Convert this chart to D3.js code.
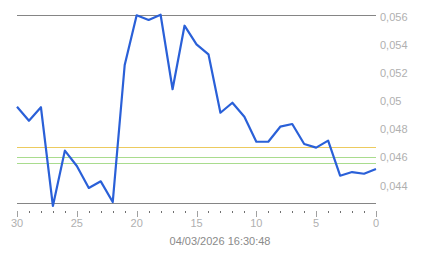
<!DOCTYPE html>
<html>
<head>
<meta charset="utf-8">
<script src="https://cdn.jsdelivr.net/npm/d3@7"></script>
<style>
  body { margin: 0; background: #fff; }
  svg { display: block; font-family: "Liberation Sans", Arial, sans-serif; }
</style>
</head>
<body>
<svg width="443" height="258"></svg>
<script>

// data –––––––––––––––––––––––––––––––––––––––––––––––––––––
var days = [30, 29, 28, 27, 26, 25, 24, 23, 22, 21, 20, 19, 18, 17, 16, 15,
            14, 13, 12, 11, 10, 9, 8, 7, 6, 5, 4, 3, 2, 1, 0];
var values = [0.04961, 0.04861, 0.04957, 0.04256, 0.04649, 0.04540, 0.04384, 0.04431,
              0.04284, 0.05257, 0.05610, 0.05577, 0.05614, 0.05085, 0.05536, 0.05404,
              0.05333, 0.04918, 0.04989, 0.04890, 0.04712, 0.04712, 0.04819, 0.04838,
              0.04696, 0.04670, 0.04720, 0.04471, 0.04497, 0.04485, 0.04519];
var yTicks = [0.044, 0.046, 0.048, 0.05, 0.052, 0.054, 0.056];
var xTicks = [30, 25, 20, 15, 10, 5, 0];
var highLow = [0.05612, 0.04277];
var refLines = [{v: 0.04675, c: "#eccb5e"}, {v: 0.04604, c: "#a9dc8e"}, {v: 0.04559, c: "#a9dc8e"}];
var dateLabel = "04/03/2026 16:30:48";

// draw –––––––––––––––––––––––––––––––––––––––––––––––––––––
var svg = d3.select("svg");

var x = d3.scaleLinear().domain([30, 0]).range([17, 376]);
var y = d3.scaleLinear().domain([0.044, 0.056]).range([185.7, 16.7]);

var fmt = function(d) { return d3.format(".3~f")(d).replace(".", ","); };

// high / low lines
svg.selectAll(".hl")
  .data(highLow)
  .enter().append("line")
    .attr("x1", x(30)).attr("x2", x(0))
    .attr("y1", function(d) { return Math.round(y(d)) + 0.5; })
    .attr("y2", function(d) { return Math.round(y(d)) + 0.5; })
    .attr("stroke", "#858585")
    .attr("stroke-width", 1.2);

// reference lines
svg.selectAll(".ref")
  .data(refLines)
  .enter().append("line")
    .attr("x1", x(30)).attr("x2", x(0))
    .attr("y1", function(d) { return Math.round(y(d.v)) + 0.5; })
    .attr("y2", function(d) { return Math.round(y(d.v)) + 0.5; })
    .attr("stroke", function(d) { return d.c; })
    .attr("stroke-width", 1.2);

// y labels
svg.selectAll(".ylab")
  .data(yTicks)
  .enter().append("text")
    .attr("x", 380)
    .attr("y", function(d) { return y(d); })
    .attr("dy", "0.35em")
    .attr("font-size", 11)
    .attr("fill", "#b0b0b0")
    .text(fmt);

// x axis ticks
var minor = d3.range(0, 31);
svg.selectAll(".xt")
  .data(minor)
  .enter().append("line")
    .attr("x1", function(d) { return Math.round(x(d)) + 0.5; })
    .attr("x2", function(d) { return Math.round(x(d)) + 0.5; })
    .attr("y1", 211)
    .attr("y2", function(d) { return d % 5 === 0 ? 217 : 213; })
    .attr("stroke", function(d) { return d % 5 === 0 ? "#a0a0a0" : "#707070"; })
    .attr("stroke-width", 1);

svg.selectAll(".xlab")
  .data(xTicks)
  .enter().append("text")
    .attr("x", function(d) { return x(d); })
    .attr("y", 223)
    .attr("dy", "0.35em")
    .attr("text-anchor", "middle")
    .attr("font-size", 11)
    .attr("fill", "#b0b0b0")
    .text(function(d) { return d; });

svg.append("text")
  .attr("x", 220)
  .attr("y", 241)
  .attr("dy", "0.35em")
  .attr("text-anchor", "middle")
  .attr("font-size", 11)
  .attr("fill", "#8a8a8a")
  .text(dateLabel);

// price line
var line = d3.line()
  .x(function(d, i) { return x(days[i]); })
  .y(function(d) { return y(d); });

svg.append("path")
  .datum(values)
  .attr("fill", "none")
  .attr("stroke", "#2a60d8")
  .attr("stroke-width", 2.2)
  .attr("stroke-linejoin", "round")
  .attr("d", line);

</script>
</body>
</html>
